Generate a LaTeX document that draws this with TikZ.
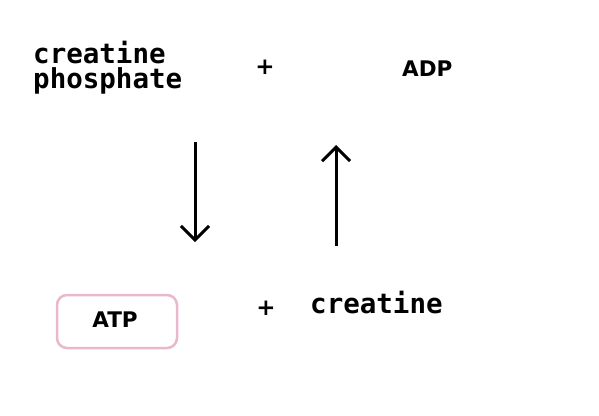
\documentclass[tikz,border=0pt]{standalone}
\usepackage{fontspec}
\newfontfamily\monob{DejaVu Sans Mono}[BoldFont={* Bold}]
\newfontfamily\sansb{DejaVu Sans}
\usetikzlibrary{arrows.meta}
\definecolor{boxpink}{RGB}{232,184,204}
\begin{document}
\begin{tikzpicture}[x=1pt,y=-1pt,
  chem/.style={inner sep=0pt, font=\monob\bfseries\fontsize{27.5}{25}\selectfont},
  mol/.style={inner sep=0pt, font=\sansb\bfseries\fontsize{21.5}{25}\selectfont},
  plus/.style={inner sep=0pt, font=\sansb\bfseries\fontsize{23}{25}\selectfont},
  react/.style={line width=3pt, -{Straight Barb[length=14pt,width=28pt]}},
  atpbox/.style={draw=boxpink, line width=2.5pt, rounded corners=10pt, minimum width=120pt, minimum height=53pt}]
\useasboundingbox (0,0) rectangle (599,415);
\node[chem, anchor=base west] (cr1) at (33,63) {creatine};
\node[chem, anchor=base west] (cr2) at (33,88) {phosphate};
\node[plus, anchor=base] (p1) at (265,74) {+};
\node[mol, anchor=base west] (adp) at (402,76) {ADP};
\node[atpbox] (box) at (117,321.5) {};
\node[mol, anchor=base] (atp) at (115,327) {ATP};
\node[plus, anchor=base] (p2) at (266,315) {+};
\node[chem, anchor=base west] (cr) at (310,313) {creatine};
\coordinate (d1) at (195,142);
\coordinate (d2) at (195,242);
\coordinate (u1) at (336,246);
\coordinate (u2) at (336,145);
\draw[react] (d1) -- (d2);
\draw[react] (u1) -- (u2);
\end{tikzpicture}
\end{document}
